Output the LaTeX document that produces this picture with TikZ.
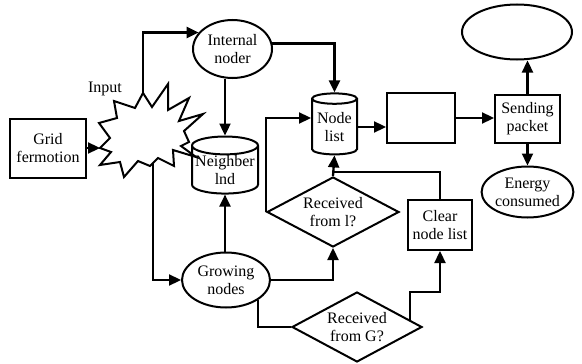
\documentclass[tikz,border=0pt]{standalone}
\usepackage{fontspec}
\setmainfont{Liberation Serif}
\usetikzlibrary{arrows.meta,shapes.geometric,calc}
\begin{document}
\begin{tikzpicture}[x=1pt,y=-1pt,
  every node/.style={font=\fontsize{16}{18}\selectfont, align=center, inner sep=0pt, line width=2pt},
  box/.style={draw, rectangle},
  ell/.style={draw, ellipse},
  dia/.style={draw, diamond, aspect=1.9},
  cyl/.style={draw, cylinder, shape border rotate=90, aspect=0.3},
  arr/.style={line width=2.3pt, -{Triangle[length=12pt,width=11pt]}},
  ln/.style={line width=2.3pt}]
\useasboundingbox (0,0) rectangle (582,364);
% starburst
\draw[line width=2pt, fill=white, line join=miter]
  (143,93) -- (152,107) -- (168,84) -- (168,110) -- (189,98) -- (179,121) -- (203,114)
  -- (184,131) -- (189,142) -- (181,146) -- (196,157) -- (173,150) -- (174,166)
  -- (158,158) -- (150,166) -- (138,161) -- (124,177) -- (120,162) -- (100,165)
  -- (111,152) -- (100,148) -- (110,138) -- (99,123) -- (117,118) -- (114,101)
  -- (135,108) -- cycle;
\coordinate (starT) at (143,93);
\coordinate (starB) at (153,163);
\coordinate (starL) at (100,148);
\node (input) at (105,89) {Input};
% nodes
\node[box, minimum width=76pt, minimum height=59pt] (grid) at (48,148) {Grid\\fermotion};
\node[ell, minimum width=79pt, minimum height=58pt] (internal) at (232.5,49) {Internal\\noder};
\node[cyl, minimum width=66pt, minimum height=54pt] (neigh) at (225,170) {Neighber\\lnd};
\node[ell, minimum width=88pt, minimum height=55pt] (growing) at (226,280) {Growing\\nodes};
\node[cyl, minimum width=45pt, minimum height=61pt] (nodelist) at (334.5,127) {Node\\list};
\node[dia, minimum width=132pt, minimum height=70pt] (recl) at (333,212) {Received\\from l?};
\node[dia, minimum width=130pt, minimum height=70pt] (recg) at (357,327) {Received\\from G?};
\node[box, minimum width=64pt, minimum height=50pt] (clear) at (440,225) {Clear\\node list};
\node[box, minimum width=68pt, minimum height=50pt] (empty) at (421,118) {};
\node[box, minimum width=65pt, minimum height=48pt] (send) at (527.5,119) {Sending\\packet};
\node[ell, minimum width=110pt, minimum height=55pt] (top) at (517,32) {};
\node[ell, minimum width=89pt, minimum height=51pt] (energy) at (527.5,192) {Energy\\consumed};
% connectors
\draw[arr] (grid.east) -- (starL);
\draw[arr] (starT) |- (internal.154);
\draw[arr] (internal.8) -| (nodelist.north);
\draw[arr] (neigh.north |- internal.south) -- (neigh.north);
\draw[arr] (neigh.south |- growing.north) -- (neigh.south);
\draw[arr] (starB) |- (growing.west);
\draw[arr] (growing.east) -| (recl.south);
\draw[ln] (growing.-32) |- (recg.west);
\coordinate (gout) at ($(recg.north)!0.8!(recg.east)$);
\draw[arr] (gout) |- ($(clear.south)+(0,41)$) -- (clear.south);
\draw[arr] (recl.north) -- (nodelist.south);
\draw[ln] (clear.north) |- ($(recl.north)+(0,-4)$);
\draw[arr] (recl.west) |- ($(nodelist.west)+(0,-9)$);
\draw[arr] (nodelist.east) -- (nodelist.east -| empty.west);
\draw[arr] (empty.east) -- (empty.east -| send.west);
\draw[arr] (send.north) -- (send.north |- top.south);
\draw[arr] (send.south) -- (energy.north);
\end{tikzpicture}
\end{document}
